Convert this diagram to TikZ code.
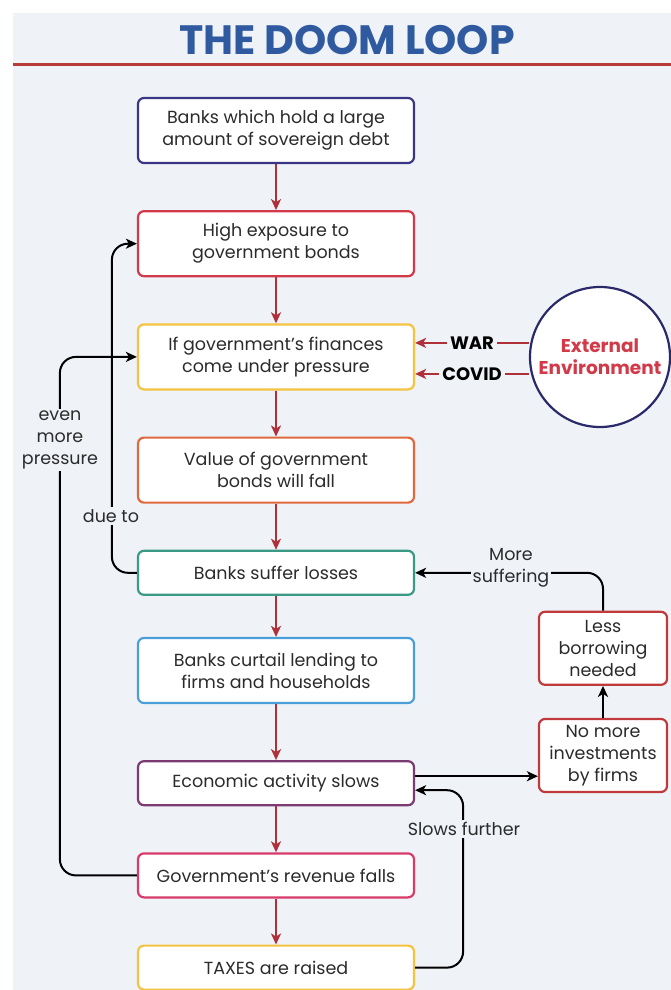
\documentclass[tikz,border=0pt]{standalone}
\usepackage{fontspec}
\setmainfont{Poppins}
\usepackage{xcolor}
\usetikzlibrary{positioning,arrows.meta}

\definecolor{panel}{HTML}{EFF3F8}
\definecolor{titleblue}{HTML}{2F5AA0}
\definecolor{rulered}{HTML}{B83A3A}
\definecolor{arrred}{HTML}{B0303A}
\definecolor{textgrey}{HTML}{2B2B2B}
\definecolor{cnavy}{HTML}{3B3585}
\definecolor{cred}{HTML}{D23A4A}
\definecolor{cyellow}{HTML}{F5C342}
\definecolor{corange}{HTML}{E06A3D}
\definecolor{cteal}{HTML}{3A9A86}
\definecolor{cblue}{HTML}{4A9FD8}
\definecolor{cpurple}{HTML}{7B3A72}
\definecolor{cpink}{HTML}{D93A6A}
\definecolor{cside}{HTML}{C0393B}
\definecolor{envnavy}{HTML}{2A2A6A}

\begin{document}
\begin{tikzpicture}[
    x=1pt, y=-1pt,
    node distance=46pt and 123pt,
    box/.style={draw, fill=white, rounded corners=6pt, line width=2.2pt, minimum width=276pt,
      minimum height=44pt, align=center, text=textgrey,
      font=\fontsize{17.5}{22}\selectfont},
    twoline/.style={minimum height=65pt},
    sidebox/.style={box, draw=cside, minimum width=128pt, minimum height=73pt, inner sep=2pt},
    lbl/.style={fill=panel, align=center, text=textgrey, inner sep=2pt,
      font=\fontsize{17.5}{22}\selectfont},
    tag/.style={fill=panel, inner xsep=3pt, inner ysep=1pt, text=black,
      font=\fontsize{18}{20}\bfseries\selectfont},
    redarr/.style={-{Stealth[length=11pt, width=10pt, inset=3pt]}, line width=2pt, draw=arrred},
    blkarr/.style={-{Stealth[length=11pt, width=10pt, inset=3pt]}, line width=2pt, draw=black,
      rounded corners=16pt}
  ]
    \useasboundingbox (0,0) rectangle (671,990);
    \fill[panel] (13,13) rectangle (671,990);
    \node[font=\fontsize{41}{44}\bfseries\selectfont, text=titleblue] (title) at (347,40) {THE DOOM LOOP};
    \draw[rulered, line width=3pt] (13,65) -- (671,65);

    % main column
    \node[box, twoline, draw=cnavy] (banks) at (276,130.5) {Banks which hold a large\\amount of sovereign debt};
    \node[box, twoline, draw=cred, below=of banks] (expo) {High exposure to\\government bonds};
    \node[box, twoline, draw=cyellow, below=of expo] (finance) {If government's finances\\come under pressure};
    \node[box, twoline, draw=corange, below=of finance] (value) {Value of government\\bonds will fall};
    \node[box, draw=cteal, below=of value] (losses) {Banks suffer losses};
    \node[box, twoline, draw=cblue, below=41pt of losses] (curtail) {Banks curtail lending to\\firms and households};
    \node[box, draw=cpurple, below=56pt of curtail] (slows) {Economic activity slows};
    \node[box, draw=cpink, below=of slows] (revenue) {Government's revenue falls};
    \node[box, draw=cyellow, below=of revenue] (taxes) {TAXES are raised};

    \foreach \a/\b in {banks/expo, expo/finance, finance/value, value/losses,
        losses/curtail, curtail/slows, slows/revenue, revenue/taxes}
      \draw[redarr] (\a) -- (\b);

    % outside shocks
    \node[circle, draw=envnavy, fill=white, line width=2.2pt, minimum size=140pt, align=center,
      text=cred, font=\fontsize{18.5}{22}\bfseries\selectfont] (env) at (600,357) {External\\Environment};
    \coordinate (warpt) at ([yshift=14pt]finance.east);
    \coordinate (covidpt) at ([yshift=-17pt]finance.east);
    \draw[redarr] (env.west |- warpt) -- node[tag] (war) {WAR} (warpt);
    \draw[redarr] (env.west |- covidpt) -- node[tag] (covid) {COVID} (covidpt);

    % feedback on the left
    \draw[blkarr] (losses.west) -- ++(-25,0) |- (expo.west);
    \node[lbl] (dueto) at (111,516) {due to};
    \draw[blkarr] (revenue.west) -- ++(-77,0) |- (finance.west);
    \node[lbl] (pressure) at (60,440) {even\\more\\pressure};

    % feedback on the right
    \node[sidebox] (invest) at (603,755.5) {No more\\investments\\by firms};
    \node[sidebox, above=32pt of invest] (borrow) {Less\\borrowing\\needed};
    \draw[blkarr] ([yshift=7pt]slows.east) -- ([yshift=7pt]slows.east -| invest.west);
    \draw[blkarr] (invest) -- (borrow);
    \draw[blkarr] (borrow.north) |- (losses.east);
    \node[lbl] (suffer) at (511,568) {More\\suffering};
    \draw[blkarr] (taxes.east) -- ++(48,0) |- ([yshift=-7pt]slows.east);
    \node[lbl] (further) at (464,829) {Slows further};
\end{tikzpicture}
\end{document}
